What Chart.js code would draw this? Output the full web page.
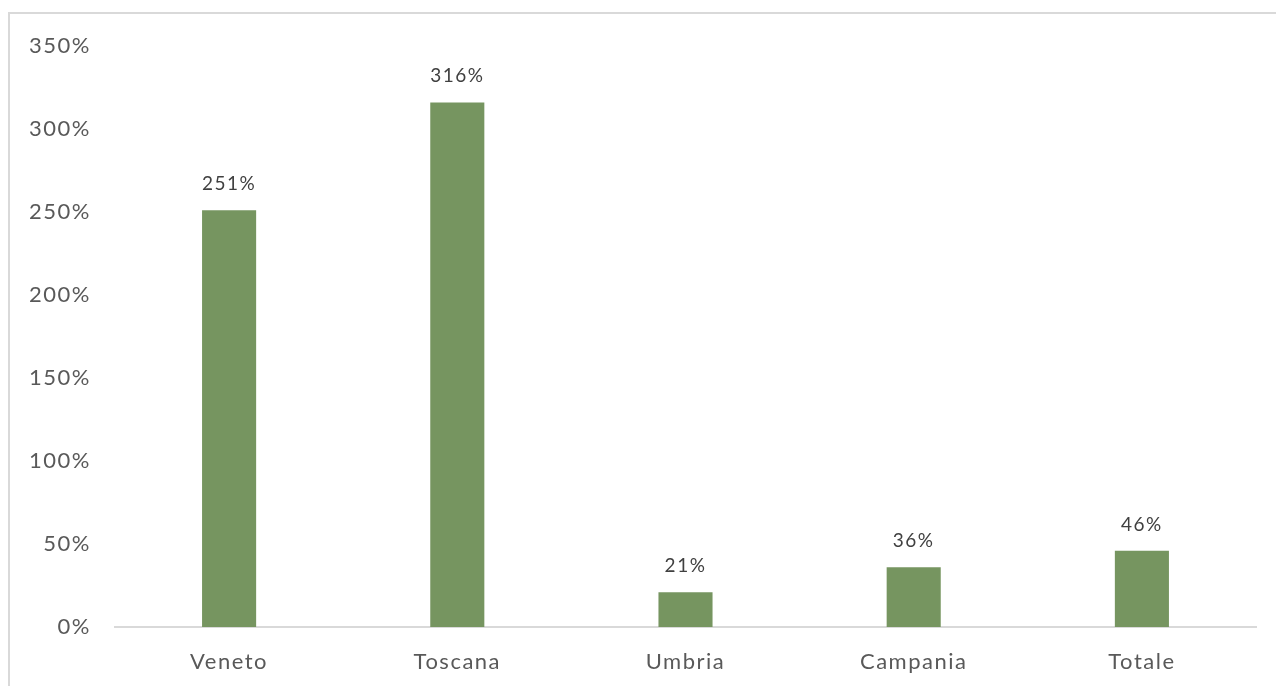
<!DOCTYPE html>
<html>
<head>
<meta charset="utf-8">
<script src="https://cdn.jsdelivr.net/npm/chart.js@4"></script>
<style>
  html, body { margin: 0; padding: 0; background: #fff; overflow: hidden; }
  #wrap { position: relative; width: 1276px; height: 686px; }
  #frame {
    position: absolute; left: 8px; top: 12px; width: 1300px; height: 700px;
    border-top: 2px solid #d9d9d9; border-left: 2px solid #d9d9d9;
  }
  canvas { position: absolute; left: 0; top: 0; }
</style>
</head>
<body>
<div id="wrap">
  <div id="frame"></div>
  <canvas id="chart" width="1276" height="686"></canvas>
</div>
<script>
const categories = ['Veneto', 'Toscana', 'Umbria', 'Campania', 'Totale']
const values = [2.51, 3.16, 0.21, 0.36, 0.46]
const yTicks = [0, 0.5, 1, 1.5, 2, 2.5, 3, 3.5]

const FONT = 'Lato, "Open Sans", sans-serif'
const pct = v => `${Math.round(v * 100)}%`

// wider tracking for all chart text
const spacing = {
  id: 'spacing',
  beforeDraw(chart) { chart.ctx.letterSpacing = '1.5px' }
}

// value labels above each bar
const barLabels = {
  id: 'barLabels',
  afterDatasetsDraw(chart) {
    const ctx = chart.ctx
    const meta = chart.getDatasetMeta(0)
    ctx.save()
    ctx.font = `19px ${FONT}`
    ctx.fillStyle = '#404040'
    ctx.textAlign = 'center'
    ctx.textBaseline = 'alphabetic'
    meta.data.forEach((bar, i) => {
      ctx.fillText(pct(values[i]), bar.x, bar.y - 20)
    })
    ctx.restore()
  }
}

new Chart(document.getElementById('chart'), {
  type: 'bar',
  data: {
    labels: categories,
    datasets: [{
      data: values,
      backgroundColor: '#769560',
      borderWidth: 0,
      categoryPercentage: 1,
      barPercentage: 0.237,
    }]
  },
  options: {
    responsive: false,
    animation: false,
    events: [],
    layout: { padding: { top: 46, right: 20, left: 0, bottom: 0 } },
    plugins: {
      legend: { display: false },
      tooltip: { enabled: false }
    },
    scales: {
      x: {
        grid: { display: false, drawTicks: false },
        border: { display: true, color: '#d9d9d9', width: 2 },
        ticks: { font: { size: 22, family: FONT }, color: '#595959', padding: 22 },
        afterFit: s => { s.height = 59 }
      },
      y: {
        min: 0,
        max: 3.5,
        afterBuildTicks: s => { s.ticks = yTicks.map(v => ({ value: v })) },
        grid: { display: false, drawTicks: false },
        border: { display: false },
        ticks: {
          font: { size: 22, family: FONT },
          color: '#595959',
          padding: 24,
          callback: v => pct(v)
        },
        afterFit: s => { s.width = 115 }
      }
    }
  },
  plugins: [spacing, barLabels]
})
</script>
</body>
</html>
